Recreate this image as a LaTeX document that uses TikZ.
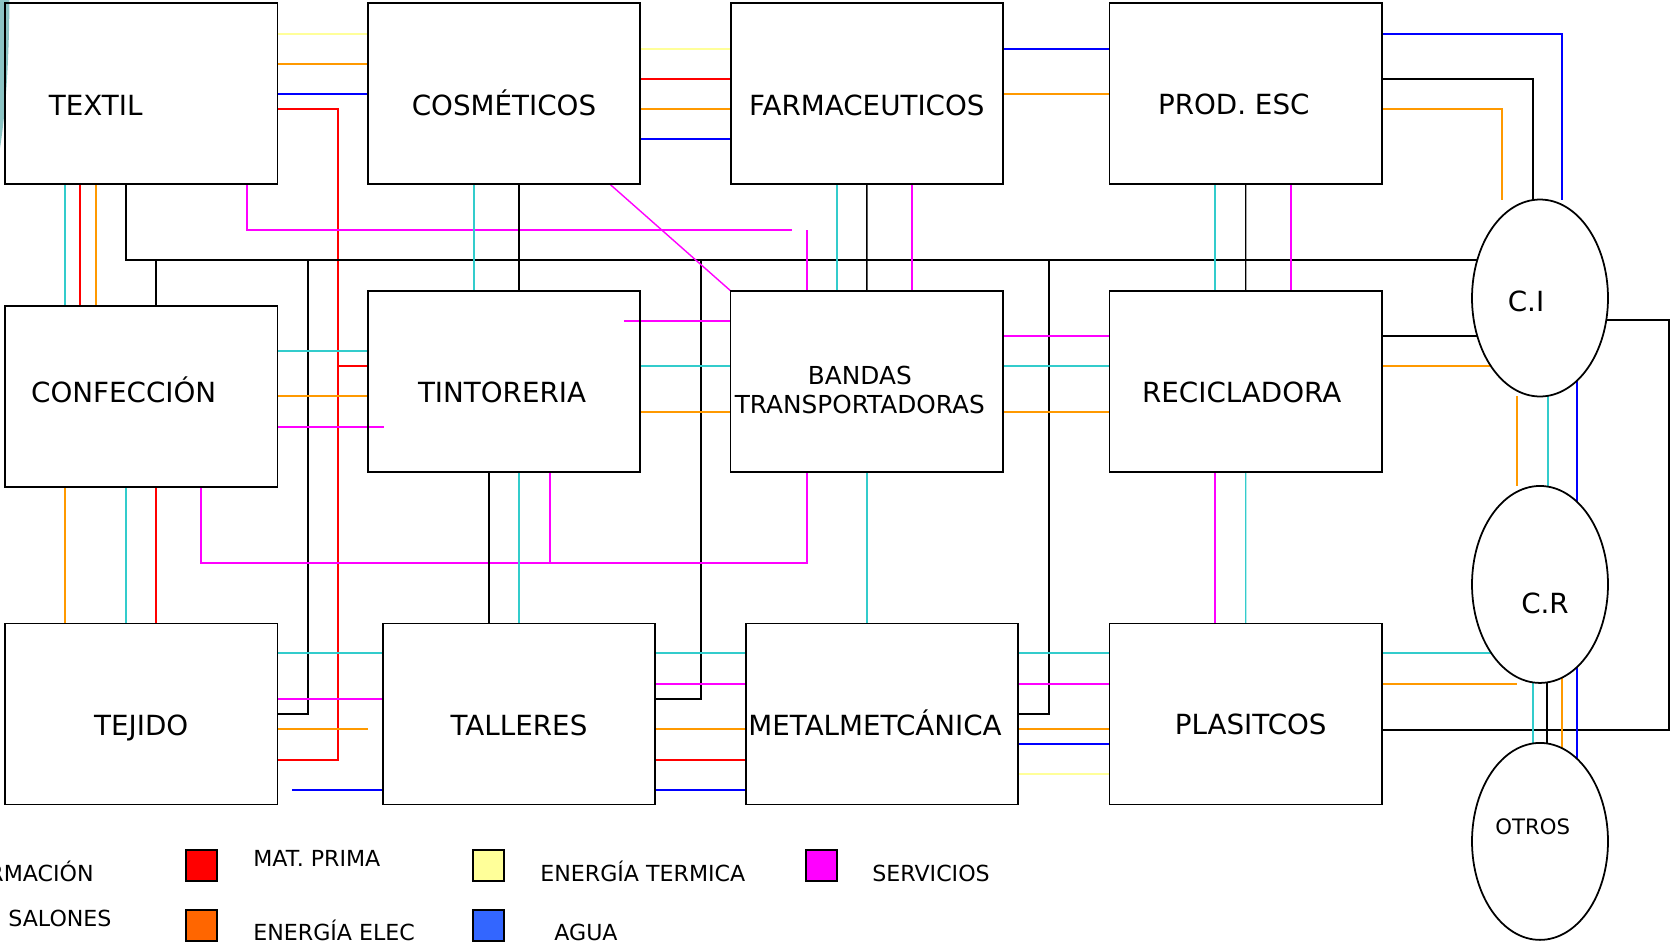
\documentclass[tikz,border=0pt]{standalone}
\usepackage{fontspec}
\setmainfont{DejaVu Sans}
\usepackage{tikz}
\usetikzlibrary{shapes.geometric,positioning,backgrounds}
\definecolor{cian}{RGB}{51,204,204}
\definecolor{naranja}{RGB}{255,153,0}
\definecolor{amarillo}{RGB}{255,255,153}
\definecolor{azul}{RGB}{0,0,255}
\definecolor{rojo}{RGB}{255,0,0}
\definecolor{fucsia}{RGB}{255,0,255}
\definecolor{naranjaleg}{RGB}{255,102,0}
\definecolor{azulleg}{RGB}{51,102,255}
\definecolor{grisazul}{RGB}{140,196,196}

\begin{document}
\begin{tikzpicture}[x=0.02cm, y=-0.02cm]
\tikzstyle{box}=[rectangle, draw=black!100, line width=1pt, outer sep=0pt, minimum width=5.45cm, minimum height=3.62cm]
\tikzstyle{hub}=[ellipse, draw=black!100, fill=white, line width=1pt, outer sep=0pt, inner sep=0pt, minimum width=2.72cm, minimum height=3.94cm]
\tikzstyle{rot}=[font=\fontsize{15.8}{18}\selectfont, inner sep=0pt, text height=11.5pt, text depth=0pt]
\tikzstyle{leg}=[font=\fontsize{12.6}{14}\selectfont, inner sep=0pt]
\tikzstyle{swatch}=[rectangle, draw=black!100, line width=1pt, minimum size=0.62cm, inner sep=0pt]
\tikzstyle{con}=[line width=0.8pt]
\tikzstyle{mp}=[con, draw=rojo]
\tikzstyle{ee}=[con, draw=naranja]
\tikzstyle{et}=[con, draw=amarillo]
\tikzstyle{ag}=[con, draw=azul]
\tikzstyle{sv}=[con, draw=fucsia]
\tikzstyle{inf}=[con, draw=cian]
\tikzstyle{sal}=[con, draw=black]
  \useasboundingbox (0,0) rectangle (1670,943);
  \clip (0,0) rectangle (1670,943);
  \fill[grisazul] (0,0) -- (9.5,0) .. controls (9,60) and (6,110) .. (0,148) -- cycle;
  % fila 1
  \node[box, label={[rot, name=textil-t, xshift=-0.91cm, yshift=-0.23cm]center:TEXTIL}] (textil) at (141.2,93.8) {};
  \node[box, right=1.808cm of textil, label={[rot, name=cosm-t, yshift=-0.23cm]center:COSMÉTICOS}] (cosm) {};
  \node[box, right=1.808cm of cosm, label={[rot, name=farma-t, yshift=-0.23cm]center:FARMACEUTICOS}] (farma) {};
  \node[box, right=2.13cm of farma, label={[rot, name=prod-t, xshift=-0.24cm, yshift=-0.22cm]center:PROD. ESC}] (prod) {};
  % fila 2
  \node[box, label={[rot, name=conf-t, xshift=-0.35cm, yshift=0.086cm]center:CONFECCIÓN}] (conf) at (141.2,396.3) {};
  \node[box, label={[rot, name=tint-t, xshift=-0.04cm, yshift=-0.22cm]center:TINTORERIA}] (tint) at (504,381.3) {};
  \node[box, right=1.808cm of tint, label={[name=bandas-t, font=\fontsize{14.1}{16.3}\selectfont, align=center, inner sep=0pt, xshift=-0.14cm, yshift=-0.174cm]center:BANDAS\\TRANSPORTADORAS}] (bandas) {};
  \node[box, right=2.13cm of bandas, label={[rot, name=recic-t, xshift=-0.08cm, yshift=-0.214cm]center:RECICLADORA}] (recic) {};
  % fila 3
  \node[box, label={[rot, name=tejido-t, yshift=-0.22cm]center:TEJIDO}] (tejido) at (141.2,714) {};
  \node[box, right=2.108cm of tejido, label={[rot, name=talleres-t, yshift=-0.22cm]center:TALLERES}] (talleres) {};
  \node[box, right=1.808cm of talleres, label={[rot, name=metal-t, xshift=-0.136cm, yshift=-0.22cm]center:METALMETCÁNICA}] (metal) {};
  \node[box, right=1.83cm of metal, label={[rot, name=plas-t, xshift=0.098cm, yshift=-0.2cm]center:PLASITCOS}] (plas) {};
  % centros
  \node[hub, label={[rot, name=ci-t, xshift=-0.28cm, yshift=-0.07cm]center:C.I}] (ci) at (1540,298) {};
  \node[hub, below=1.79cm of ci, label={[rot, name=cr-t, xshift=0.1cm, yshift=-0.38cm]center:C.R}] (cr) {};
  \node[hub, below=1.2cm of cr, label={[rot, name=otros-t, font=\fontsize{12.1}{14}\selectfont, text height=8.8pt, xshift=-0.146cm, yshift=0.29cm]center:OTROS}] (otros) {};
  % puntos de union
  \coordinate (mp-j) at (338,366);
  \coordinate (mp-b) at (338,760);
  \coordinate (bus-a) at (156,260);
  \coordinate (bus-b) at (308,260);
  \coordinate (bus-c) at (701,260);
  \coordinate (bus-d) at (1049,260);
  \coordinate (sv-a) at (792,230);
  \coordinate (sv-b) at (807,230);
  \coordinate (sv-c) at (384,427);
  \coordinate (sv-d) at (624,321);
  \coordinate (sv-e) at (807,563);
  \coordinate (sv-f) at (550,563);
  \coordinate (ee-a) at (368,729);
  \coordinate (ee-b) at (1517,684);
  \coordinate (ag-a) at (292,790);
  \coordinate (sal-e) at (1669,730);
  \begin{scope}[on background layer]
  % fila 1
  \draw[et] (textil.east |- 0,34) -- (cosm.west |- 0,34);
  \draw[ee] (textil.east |- 0,64) -- (cosm.west |- 0,64);
  \draw[ag] (textil.east |- 0,94) -- (cosm.west |- 0,94);
  \draw[mp] (textil.east |- 0,109) -| (mp-b) -- (tejido.east |- mp-b);
  \draw[mp] (mp-j) -- (tint.west |- mp-j);
  \draw[et] (cosm.east |- 0,49) -- (farma.west |- 0,49);
  \draw[mp] (cosm.east |- 0,79) -- (farma.west |- 0,79);
  \draw[ee] (cosm.east |- 0,109) -- (farma.west |- 0,109);
  \draw[ag] (cosm.east |- 0,139) -- (farma.west |- 0,139);
  \draw[ag] (farma.east |- 0,49) -- (prod.west |- 0,49);
  \draw[ee] (farma.east |- 0,94) -- (prod.west |- 0,94);
  \draw[ag] (prod.east |- 0,34) -| (ci.north -| 1562,0);
  \draw[sal] (prod.east |- 0,79) -| (ci.north -| 1533,0);
  \draw[ee] (prod.east |- 0,109) -| (ci.north -| 1502,0);
  % fila 1 a fila 2
  \draw[inf] (textil.south -| 65,0) -- (conf.north -| 65,0);
  \draw[mp] (textil.south -| 80,0) -- (conf.north -| 80,0);
  \draw[ee] (textil.south -| 96,0) -- (conf.north -| 96,0);
  \draw[sal] (textil.south -| 126,0) |- (ci.center |- 0,260);
  \draw[sal] (bus-a) -- (conf.north -| bus-a);
  \draw[sal] (bus-b) |- (tejido.east |- 0,714);
  \draw[sal] (bus-c) |- (talleres.east |- 0,699);
  \draw[sal] (bus-d) |- (metal.east |- 0,714);
  \draw[sv] (textil.south -| 247,0) |- (sv-a);
  \draw[sv] (sv-b) -- (bandas.north -| sv-b);
  \draw[inf] (cosm.south -| 474,0) -- (tint.north -| 474,0);
  \draw[sal] (cosm.south -| 519,0) -- (tint.north -| 519,0);
  \draw[sv] (cosm.south -| 610,0) -- (bandas.north west);
  \draw[inf] (farma.south -| 837,0) -- (bandas.north -| 837,0);
  \draw[sal] (farma.south) -- (bandas.north);
  \draw[sv] (farma.south -| 912,0) -- (bandas.north -| 912,0);
  \draw[inf] (prod.south -| 1215,0) -- (recic.north -| 1215,0);
  \draw[sal] (prod.south) -- (recic.north);
  \draw[sv] (prod.south -| 1291,0) -- (recic.north -| 1291,0);
  % fila 2
  \draw[inf] (conf.east |- 0,351) -- (tint.west |- 0,351);
  \draw[ee] (conf.east |- 0,396) -- (tint.west |- 0,396);
  \draw[sv] (conf.east |- sv-c) -- (sv-c);
  \draw[sv] (sv-d) -- (bandas.west |- sv-d);
  \draw[inf] (tint.east |- 0,366) -- (bandas.west |- 0,366);
  \draw[ee] (tint.east |- 0,412) -- (bandas.west |- 0,412);
  \draw[sv] (bandas.east |- 0,336) -- (recic.west |- 0,336);
  \draw[inf] (bandas.east |- 0,366) -- (recic.west |- 0,366);
  \draw[ee] (bandas.east |- 0,412) -- (recic.west |- 0,412);
  \draw[sal] (recic.east |- 0,336) -- (ci.center |- 0,336);
  \draw[ee] (recic.east |- 0,366) -- (ci.center |- 0,366);
  \draw[sal] (ci.center |- 0,320) -| (sal-e) -- (plas.east |- sal-e);
  % fila 2 a fila 3
  \draw[ee] (conf.south -| 65,0) -- (tejido.north -| 65,0);
  \draw[inf] (conf.south -| 126,0) -- (tejido.north -| 126,0);
  \draw[mp] (conf.south -| 156,0) -- (tejido.north -| 156,0);
  \draw[sv] (conf.south -| 201,0) |- (sv-e) -- (bandas.south -| sv-e);
  \draw[sv] (tint.south -| sv-f) -- (sv-f);
  \draw[sal] (tint.south -| 489,0) -- (talleres.north -| 489,0);
  \draw[inf] (tint.south -| talleres.north) -- (talleres.north);
  \draw[inf] (bandas.south) -- (metal.north -| bandas.south);
  \draw[sv] (recic.south -| 1215,0) -- (plas.north -| 1215,0);
  \draw[inf] (recic.south) -- (plas.north);
  % fila 3
  \draw[inf] (tejido.east |- 0,653) -- (talleres.west |- 0,653);
  \draw[sv] (tejido.east |- 0,699) -- (talleres.west |- 0,699);
  \draw[ee] (tejido.east |- ee-a) -- (ee-a);
  \draw[ag] (ag-a) -- (talleres.west |- ag-a);
  \draw[inf] (talleres.east |- 0,653) -- (metal.west |- 0,653);
  \draw[sv] (talleres.east |- 0,684) -- (metal.west |- 0,684);
  \draw[ee] (talleres.east |- 0,729) -- (metal.west |- 0,729);
  \draw[mp] (talleres.east |- 0,760) -- (metal.west |- 0,760);
  \draw[ag] (talleres.east |- 0,790) -- (metal.west |- 0,790);
  \draw[inf] (metal.east |- 0,653) -- (plas.west |- 0,653);
  \draw[sv] (metal.east |- 0,684) -- (plas.west |- 0,684);
  \draw[ee] (metal.east |- 0,729) -- (plas.west |- 0,729);
  \draw[ag] (metal.east |- 0,744) -- (plas.west |- 0,744);
  \draw[et] (metal.east |- 0,774) -- (plas.west |- 0,774);
  \draw[inf] (plas.east |- 0,653) -- (cr.center |- 0,653);
  \draw[ee] (plas.east |- ee-b) -- (ee-b);
  % entre centros
  \draw[ee] (ci.south -| 1517,0) -- (cr.north -| 1517,0);
  \draw[inf] (ci.south -| 1548,0) -- (cr.north -| 1548,0);
  \draw[ag] (ci.center -| 1577,0) -- (otros.center -| 1577,0);
  \draw[inf] (cr.center -| 1533,0) -- (otros.center -| 1533,0);
  \draw[sal] (cr.center -| 1547,0) -- (otros.center -| 1547,0);
  \draw[ee] (cr.center -| 1562,0) -- (otros.center -| 1562,0);
  \end{scope}
  % leyenda
  \node[swatch, fill=rojo] (sw-mp) at (201.7,865.3) {};
  \node[swatch, fill=naranjaleg] (sw-ee) at (201.7,925.7) {};
  \node[swatch, fill=amarillo] (sw-et) at (488.8,865.3) {};
  \node[swatch, fill=azulleg] (sw-ag) at (488.8,925.7) {};
  \node[swatch, fill=fucsia] (sw-sv) at (821.7,865.3) {};
  \node[leg, anchor=base east] (l-inf) at (94,881) {RMACIÓN};
  \node[leg, anchor=base west] (l-sal) at (8,926) {SALONES};
  \node[leg, anchor=base west] (l-mp) at (253,866) {MAT. PRIMA};
  \node[leg, anchor=base west] (l-ee) at (253,940) {ENERGÍA ELEC};
  \node[leg, anchor=base west] (l-et) at (540,881) {ENERGÍA TERMICA};
  \node[leg, anchor=base west] (l-ag) at (554,940) {AGUA};
  \node[leg, anchor=base west] (l-sv) at (872,881) {SERVICIOS};
\end{tikzpicture}
\end{document}
